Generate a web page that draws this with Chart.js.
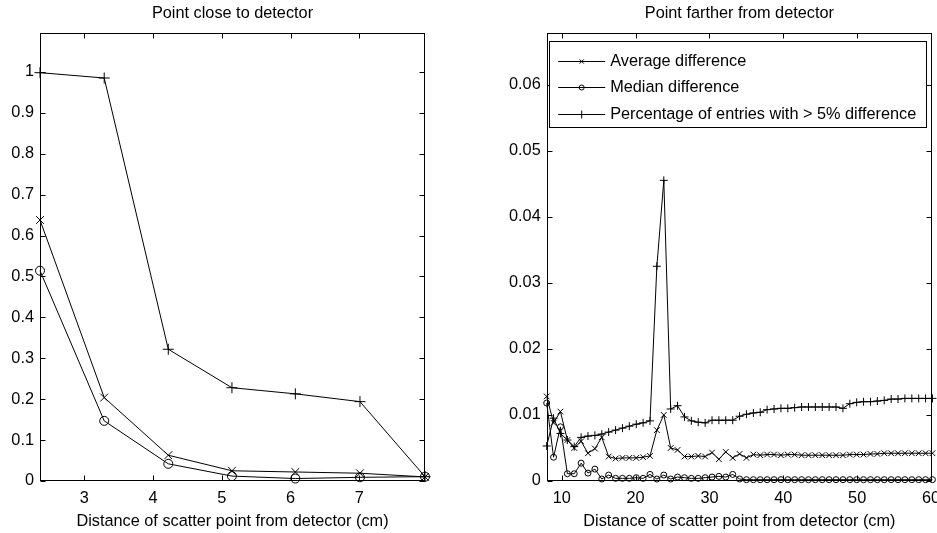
<!DOCTYPE html>
<html><head><meta charset="utf-8">
<script src="https://cdn.jsdelivr.net/npm/chart.js@4.4.0/dist/chart.umd.min.js"></script>
<style>
html,body{margin:0;padding:0;background:#fff;}
#wrap{position:relative;width:937px;height:533px;overflow:hidden;}
#c1{position:absolute;left:0;top:0;width:470px;height:533px;}
#c2{position:absolute;left:470px;top:0;width:467px;height:533px;}
</style></head><body>
<div id="wrap"><canvas id="c1" width="470" height="533"></canvas><canvas id="c2" width="467" height="533"></canvas></div>
<script>
// ---------- data ----------
const leftTitle = 'Point close to detector';
const rightTitle = 'Point farther from detector';
const xAxisLabel = 'Distance of scatter point from detector (cm)';
const seriesNames = ['Average difference', 'Median difference', 'Percentage of entries with > 5% difference'];

const nearDistance   = [2.356, 3.29, 4.222, 5.148, 6.07, 7.01, 7.956];
const nearAverage    = [0.638, 0.204, 0.063, 0.025, 0.022, 0.019, 0.010];
const nearMedian     = [0.514, 0.147, 0.042, 0.012, 0.006, 0.009, 0.0106];
const nearPercentage = [0.998, 0.985, 0.322, 0.228, 0.213, 0.194, 0.0106];
const nearXTicks = [3, 4, 5, 6, 7];
const nearYTicks = [0, 0.1, 0.2, 0.3, 0.4, 0.5, 0.6, 0.7, 0.8, 0.9, 1];

const farDistance = [7.96, 8.89, 9.82, 10.76, 11.69, 12.62, 13.55, 14.49, 15.42, 16.35,
  17.29, 18.22, 19.15, 20.09, 21.02, 21.95, 22.88, 23.82, 24.75, 25.68,
  26.62, 27.55, 28.48, 29.42, 30.35, 31.28, 32.21, 33.15, 34.08, 35.01,
  35.95, 36.88, 37.81, 38.75, 39.68, 40.61, 41.54, 42.48, 43.41, 44.34,
  45.28, 46.21, 47.14, 48.08, 49.01, 49.94, 50.87, 51.81, 52.74, 53.67,
  54.61, 55.54, 56.47, 57.41, 58.34, 59.27, 60.20];
const farAverage = [0.0128, 0.0088, 0.0105, 0.0062, 0.0050, 0.0060, 0.0042, 0.0049, 0.0066, 0.0037,
  0.0034, 0.0035, 0.0035, 0.0035, 0.0036, 0.0038, 0.0077, 0.0100, 0.0050, 0.0047,
  0.0037, 0.0037, 0.0038, 0.0037, 0.0043, 0.0033, 0.0044, 0.0035, 0.0041, 0.0035,
  0.0040, 0.0039, 0.0040, 0.0040, 0.0039, 0.0040, 0.0040, 0.0039, 0.0039, 0.0039,
  0.0039, 0.0039, 0.0039, 0.0039, 0.0040, 0.0040, 0.0040, 0.0041, 0.0041, 0.0042,
  0.0042, 0.0042, 0.0042, 0.0042, 0.0042, 0.0042, 0.0042];
const farMedian = [0.0118, 0.0036, 0.0082, 0.0011, 0.0011, 0.0027, 0.0012, 0.0018, 0.0003, 0.0009,
  0.0004, 0.0004, 0.0004, 0.0005, 0.0004, 0.0010, 0.0003, 0.0009, 0.0003, 0.0006,
  0.0005, 0.0004, 0.0004, 0.0005, 0.0006, 0.0007, 0.0006, 0.0010, 0.0003, 0.0002,
  0.0002, 0.0002, 0.0002, 0.0002, 0.0002, 0.0002, 0.0002, 0.0002, 0.0002, 0.0002,
  0.0002, 0.0002, 0.0002, 0.0002, 0.0002, 0.0002, 0.0002, 0.0002, 0.0002, 0.0002,
  0.0002, 0.0002, 0.0002, 0.0002, 0.0002, 0.0002, 0.0002];
const farPercentage = [0.0053, 0.0095, 0.0072, 0.0062, 0.0052, 0.0066, 0.0068, 0.0069, 0.0071, 0.0074,
  0.0077, 0.0080, 0.0083, 0.0086, 0.0088, 0.0091, 0.0325, 0.0455, 0.0109, 0.0114,
  0.0097, 0.0091, 0.0089, 0.0088, 0.0092, 0.0092, 0.0092, 0.0092, 0.0098, 0.0101,
  0.0103, 0.0104, 0.0108, 0.0109, 0.0110, 0.0110, 0.0111, 0.0112, 0.0112, 0.0112,
  0.0112, 0.0112, 0.0112, 0.0110, 0.0117, 0.0119, 0.0120, 0.0120, 0.0121, 0.0122,
  0.0124, 0.0124, 0.0125, 0.0125, 0.0125, 0.0125, 0.0125];
const farXTicks = [10, 20, 30, 40, 50, 60];
const farYTicks = [0, 0.01, 0.02, 0.03, 0.04, 0.05, 0.06];

// ---------- helpers ----------
const FONT = "'Liberation Sans', Arial, Helvetica, sans-serif";
const FSIZE = 16.3;
const INK = '#000';

function pairs(xs, ys){ return xs.map((x, i) => ({x: x, y: ys[i]})); }

const framePlugin = {
  id: 'frame',
  afterDatasetsDraw(chart, args, o){
    const ctx = chart.ctx, a = chart.chartArea, sx = chart.scales.x, sy = chart.scales.y;
    const L = Math.round(a.left) + 0.5, R = Math.round(a.right) - 0.5;
    const T = Math.round(a.top) + 0.5, B = Math.round(a.bottom) - 0.5;
    const len = 5;
    ctx.save();
    ctx.strokeStyle = INK; ctx.lineWidth = 1;
    ctx.strokeRect(L, T, R - L, B - T);
    ctx.beginPath();
    sx.ticks.forEach(t => {
      const p = Math.round(sx.getPixelForValue(t.value)) + 0.5;
      ctx.moveTo(p, B); ctx.lineTo(p, B - len);
      ctx.moveTo(p, T); ctx.lineTo(p, T + len);
    });
    sy.ticks.forEach(t => {
      const p = Math.round(sy.getPixelForValue(t.value)) + 0.5;
      ctx.moveTo(L, p); ctx.lineTo(L + len, p);
      ctx.moveTo(R, p); ctx.lineTo(R - len, p);
    });
    ctx.stroke();
    // axes title, centred over the plot box as in the original
    ctx.fillStyle = INK;
    ctx.font = FSIZE + 'px ' + FONT;
    ctx.textAlign = 'center';
    ctx.textBaseline = 'alphabetic';
    ctx.fillText(o.title, (a.left + a.right) / 2, o.titleBaseline);
    ctx.restore();
  }
};

const boxLegendPlugin = {
  id: 'boxLegend',
  afterDraw(chart, args, o){
    if (!o || !o.show) return;
    const ctx = chart.ctx, a = chart.chartArea;
    const L = Math.round(a.left + o.insetLeft) + 0.5;
    const T = Math.round(a.top + o.insetTop) + 0.5;
    const R = Math.round(a.right - o.insetRight) + 0.5;
    const B = Math.round(a.top + o.insetTop + o.height) + 0.5;
    ctx.save();
    ctx.fillStyle = '#fff';
    ctx.fillRect(L, T, R - L, B - T);
    ctx.strokeStyle = INK; ctx.lineWidth = 1;
    ctx.strokeRect(L, T, R - L, B - T);
    ctx.font = FSIZE + 'px ' + FONT;
    ctx.textBaseline = 'middle';
    ctx.textAlign = 'left';
    chart.data.datasets.forEach((ds, i) => {
      const y = Math.round(T + o.rowTop + i * o.rowGap) + 0.5;
      ctx.strokeStyle = INK; ctx.lineWidth = 1;
      ctx.beginPath();
      ctx.moveTo(L + o.lineStart, y); ctx.lineTo(L + o.lineEnd, y);
      ctx.stroke();
      ctx.fillStyle = 'rgba(0,0,0,0)';
      Chart.helpers.drawPoint(ctx, {pointStyle: ds.pointStyle, radius: o.markerRadius[i], borderWidth: 1, rotation: 0},
        L + (o.lineStart + o.lineEnd) / 2, y);
      ctx.fillStyle = INK;
      ctx.fillText(ds.label, L + o.textX, y);
    });
    ctx.restore();
  }
};

function makeDatasets(xs, avg, med, pct, r){
  const base = {borderColor: INK, borderWidth: 1, pointBorderColor: INK, pointBackgroundColor: 'rgba(0,0,0,0)',
    pointBorderWidth: 1, showLine: true, tension: 0, clip: false, pointHoverRadius: 0};
  return [
    Object.assign({}, base, {label: seriesNames[0], data: pairs(xs, avg), pointStyle: 'crossRot', pointRadius: r[0]}),
    Object.assign({}, base, {label: seriesNames[1], data: pairs(xs, med), pointStyle: 'circle', pointRadius: r[1]}),
    Object.assign({}, base, {label: seriesNames[2], data: pairs(xs, pct), pointStyle: 'cross', pointRadius: r[2]})
  ];
}

function makeOptions(cfg){
  return {
    responsive: false,
    animation: false,
    events: [],
    layout: {padding: {left: 0, right: cfg.padRight, top: 33, bottom: 0}},
    plugins: {
      legend: {display: false},
      tooltip: {enabled: false},
      title: {display: false},
      frame: {title: cfg.title, titleBaseline: 17.5},
      boxLegend: cfg.legend
    },
    scales: {
      x: {
        type: 'linear', min: cfg.xmin, max: cfg.xmax,
        grid: {display: false, drawTicks: false},
        border: {display: false},
        afterBuildTicks: s => { s.ticks = cfg.xticks.map(v => ({value: v})); },
        afterFit: s => { s.height = 52; s.paddingLeft = 0; s.paddingRight = 0; },
        ticks: {color: INK, padding: 8, maxRotation: 0, autoSkip: false,
          font: {family: FONT, size: FSIZE, lineHeight: 1.2}, callback: v => String(v)},
        title: {display: true, text: xAxisLabel, color: INK,
          font: {family: FONT, size: FSIZE, lineHeight: 1.2}, padding: {top: 0, bottom: 2}}
      },
      y: {
        type: 'linear', min: 0, max: cfg.ymax,
        grid: {display: false, drawTicks: false},
        border: {display: false},
        afterBuildTicks: s => { s.ticks = cfg.yticks.map(v => ({value: v})); },
        afterFit: s => { s.width = cfg.yWidth; s.paddingTop = 0; s.paddingBottom = 0; },
        ticks: {color: INK, padding: 6, autoSkip: false, crossAlign: 'near',
          font: {family: FONT, size: FSIZE, lineHeight: 1.2}, callback: v => String(v)}
      }
    }
  };
}

new Chart(document.getElementById('c1'), {
  type: 'scatter',
  data: {datasets: makeDatasets(nearDistance, nearAverage, nearMedian, nearPercentage, [5.5, 4.5, 5.5])},
  options: makeOptions({title: leftTitle, padRight: 45, xmin: 2.356, xmax: 7.956, ymax: 1.095,
    xticks: nearXTicks, yticks: nearYTicks, yWidth: 40, legend: {show: false}}),
  plugins: [framePlugin, boxLegendPlugin]
});

new Chart(document.getElementById('c2'), {
  type: 'scatter',
  data: {datasets: makeDatasets(farDistance, farAverage, farMedian, farPercentage, [4, 3, 4])},
  options: makeOptions({title: rightTitle, padRight: 5, xmin: 7.96, xmax: 60.14, ymax: 0.0678,
    xticks: farXTicks, yticks: farYTicks, yWidth: 76.7,
    legend: {show: true, insetLeft: 2.6, insetTop: 8, insetRight: 6, height: 86.3,
      rowTop: 19, rowGap: 26.6, lineStart: 8.7, lineEnd: 55.7, textX: 60.7,
      markerRadius: [3, 2.5, 4]}}),
  plugins: [framePlugin, boxLegendPlugin]
});
</script>
</body></html>
